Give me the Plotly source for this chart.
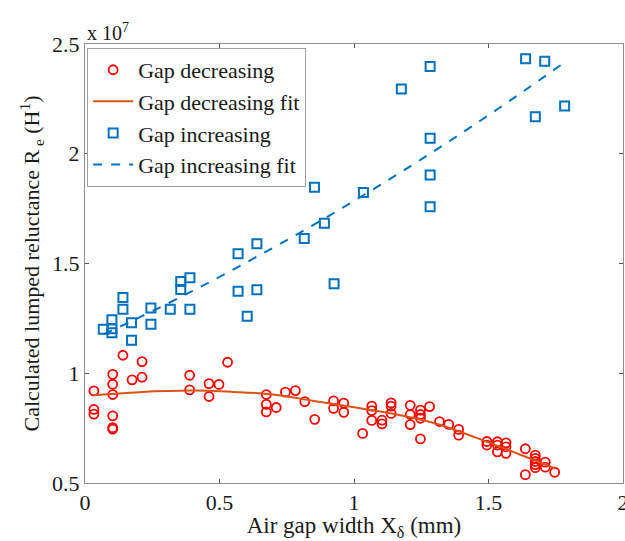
import plotly.graph_objects as go

# Gap decreasing measurements (x in mm, R_e in units of 1e7 H^-1)
dec_x = [0.033, 0.033, 0.033, 0.103, 0.103, 0.103, 0.103, 0.103, 0.103,
         0.141, 0.175, 0.212, 0.212, 0.389, 0.389, 0.461, 0.461, 0.498, 0.530,
         0.674, 0.674, 0.674, 0.711, 0.745, 0.782, 0.817, 0.854,
         0.924, 0.924, 0.962, 0.962, 1.032, 1.066, 1.066, 1.066,
         1.104, 1.104, 1.138, 1.138, 1.138, 1.209, 1.209, 1.209,
         1.247, 1.247, 1.247, 1.247, 1.281, 1.318, 1.352, 1.389, 1.389,
         1.494, 1.494, 1.533, 1.533, 1.533, 1.565, 1.565, 1.565,
         1.637, 1.637, 1.674, 1.674, 1.674, 1.674, 1.674, 1.711, 1.711, 1.746]
dec_y = [0.920, 0.835, 0.814, 0.995, 0.950, 0.903, 0.806, 0.752, 0.745,
         1.082, 0.970, 1.053, 0.982, 0.991, 0.924, 0.953, 0.894, 0.949, 1.050,
         0.903, 0.858, 0.824, 0.844, 0.914, 0.921, 0.871, 0.790,
         0.874, 0.840, 0.864, 0.822, 0.726, 0.850, 0.830, 0.785,
         0.786, 0.769, 0.865, 0.850, 0.817, 0.854, 0.812, 0.766,
         0.832, 0.812, 0.795, 0.701, 0.848, 0.780, 0.767, 0.744, 0.718,
         0.689, 0.673, 0.688, 0.673, 0.642, 0.683, 0.665, 0.635,
         0.656, 0.538, 0.627, 0.612, 0.598, 0.584, 0.570, 0.595, 0.572, 0.549]

# Gap decreasing fit
dec_fit_x = [0.03, 0.2, 0.4, 0.55, 0.7, 0.85, 1.0, 1.15, 1.3, 1.45, 1.6, 1.75]
dec_fit_y = [0.900, 0.914, 0.921, 0.915, 0.903, 0.874, 0.845, 0.814, 0.772, 0.708, 0.638, 0.565]

# Gap increasing measurements
inc_x = [0.068, 0.100, 0.100, 0.100, 0.141, 0.141, 0.173, 0.173, 0.245, 0.245,
         0.317, 0.356, 0.356, 0.390, 0.390, 0.569, 0.569, 0.603, 0.639, 0.639,
         0.815, 0.853, 0.890, 0.926, 1.035, 1.176, 1.283, 1.283, 1.283, 1.283,
         1.638, 1.674, 1.709, 1.783]
inc_y = [1.200, 1.244, 1.203, 1.185, 1.345, 1.292, 1.230, 1.150, 1.297, 1.223,
         1.292, 1.418, 1.382, 1.435, 1.292, 1.544, 1.374, 1.260, 1.590, 1.380,
         1.614, 1.847, 1.683, 1.408, 1.824, 2.295, 2.397, 2.071, 1.903, 1.759,
         2.433, 2.168, 2.421, 2.218]

# Gap increasing fit
inc_fit_x = [0.07, 0.2, 0.4, 0.6, 0.8, 1.0, 1.2, 1.4, 1.6, 1.78]
inc_fit_y = [1.178, 1.253, 1.375, 1.505, 1.641, 1.785, 1.936, 2.094, 2.259, 2.414]

x_ticks = [0, 0.5, 1, 1.5, 2]
x_labels = ["0", "0.5", "1", "1.5", "2"]
y_ticks = [0.5, 1, 1.5, 2, 2.5]
y_labels = ["0.5", "1", "1.5", "2", "2.5"]

RED = "#FF0000"
ORANGE = "#D95319"
BLUE = "#0072BD"
FONT = "Liberation Serif"

fig = go.Figure()
fig.add_trace(go.Scatter(x=dec_x, y=dec_y, mode="markers", name="Gap decreasing",
                         marker=dict(symbol="circle-open", size=9, color=RED,
                                     line=dict(width=1.8, color=RED))))
fig.add_trace(go.Scatter(x=dec_fit_x, y=dec_fit_y, mode="lines", name="Gap decreasing fit",
                         line=dict(color=ORANGE, width=2, shape="spline")))
fig.add_trace(go.Scatter(x=inc_x, y=inc_y, mode="markers", name="Gap increasing",
                         marker=dict(symbol="square-open", size=9, color=BLUE,
                                     line=dict(width=2, color=BLUE))))
fig.add_trace(go.Scatter(x=inc_fit_x, y=inc_fit_y, mode="lines", name="Gap increasing fit",
                         line=dict(color=BLUE, width=2, dash="dash", shape="spline")))

axis_common = dict(showgrid=False, zeroline=False, showline=True, linecolor="#8c8c8c",
                   linewidth=1, mirror="ticks", ticks="inside", ticklen=4,
                   tickcolor="#555555", ticklabeloverflow="allow", automargin=False,
                   tickfont=dict(family=FONT, size=22, color="#1a1a1a"))

fig.update_layout(
    width=625, height=541,
    margin=dict(l=85, r=2, t=44, b=58),
    plot_bgcolor="white", paper_bgcolor="white",
    font=dict(family=FONT, color="#1a1a1a"),
    xaxis=dict(range=[0, 2], tickvals=x_ticks, ticktext=x_labels,
               title=dict(text="Air gap width X<sub>δ</sub> (mm)", font=dict(family=FONT, size=23),
                          standoff=0),
               **axis_common),
    yaxis=dict(range=[0.5, 2.5], tickvals=y_ticks, ticktext=y_labels,
               title=dict(text="Calculated lumped reluctance R<sub> e</sub> (H<sup>1</sup>)",
                          font=dict(family=FONT, size=22), standoff=6),
               **axis_common),
    legend=dict(x=0.004, y=0.991, xanchor="left", yanchor="top",
                bgcolor="white", bordercolor="#a0a0a0", borderwidth=1,
                font=dict(family=FONT, size=22, color="#1a1a1a"),
                tracegroupgap=0, itemwidth=40),
    showlegend=True,
)

fig.add_annotation(text="x 10<sup>7</sup>", xref="paper", yref="paper", x=0, y=1,
                   xanchor="left", yanchor="bottom", showarrow=False, yshift=-2,
                   font=dict(family=FONT, size=20, color="#1a1a1a"))

fig.write_html("out.html")
